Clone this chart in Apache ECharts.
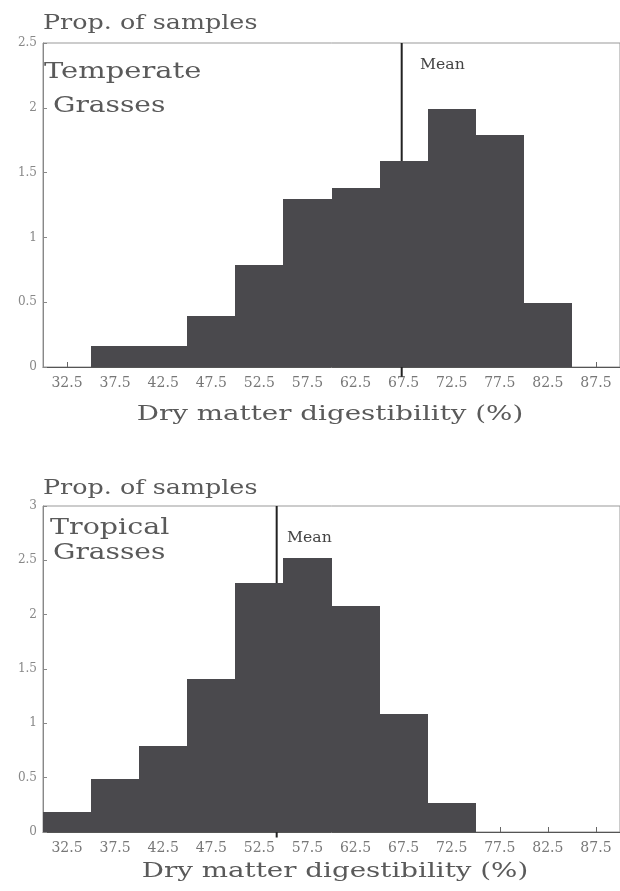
<!DOCTYPE html>
<html>
<head>
<meta charset="utf-8">
<script src="https://cdn.jsdelivr.net/npm/echarts@6/dist/echarts.min.js"></script>
<style>
html,body{margin:0;padding:0;background:#fff;}
#chart{width:620px;height:891px;}
</style>
</head>
<body>
<div id="chart"></div>
<script>
// Bin centre labels (bins of 5 % from 30 to 90)
const binLabels = ['32.5','37.5','42.5','47.5','52.5','57.5','62.5','67.5','72.5','77.5','82.5','87.5'];
// Proportion of samples per bin
const temperateValues = [0, 0.16, 0.16, 0.39, 0.79, 1.30, 1.38, 1.59, 1.99, 1.79, 0.49, 0];
const tropicalValues  = [0.18, 0.49, 0.79, 1.41, 2.29, 2.52, 2.08, 1.09, 0.27, 0, 0, 0];
// Means
const temperateMean = 67.3;
const tropicalMean = 54.3;
// Axis ranges
const temperateYMax = 2.5;
const tropicalYMax = 3;
const xMin = 30, xMax = 90;

const FONT = 'DejaVu Serif';
const TXT = '#5a5a5a';
const BAR = '#4a494d';

function catAxis(g) {
  return {
    gridIndex: g, type: 'category', data: binLabels, boundaryGap: true,
    axisLine: {show: true, lineStyle: {color: '#555', width: 1}},
    axisTick: {show: true, inside: true, alignWithLabel: true, length: 5, lineStyle: {color: '#666'}},
    axisLabel: {margin: 9, fontFamily: FONT, fontSize: 14, color: '#777', interval: 0},
    splitLine: {show: false}
  };
}
function valXAxis(g) {
  return {gridIndex: g, type: 'value', min: xMin, max: xMax, show: false};
}
function yAxis(g, max) {
  return {
    gridIndex: g, type: 'value', min: 0, max: max, interval: 0.5,
    axisLine: {show: true, lineStyle: {color: '#888', width: 1}},
    axisTick: {show: true, inside: true, length: 4, lineStyle: {color: '#888'}},
    axisLabel: {margin: 6, fontFamily: FONT, fontSize: 12, color: '#888'},
    splitLine: {show: false}
  };
}
function txt(text, x, y, size, sx, align, color) {
  return {
    type: 'text', x: x, y: y, scaleX: sx, z: 10,
    style: {text: text, fontFamily: FONT, fontSize: size, fill: color || TXT,
            align: align || 'left', verticalAlign: 'middle'}
  };
}
// histogram bins drawn via axis scales, snapped to whole pixels so neighbours share edges
function renderBin(params, api) {
  const idx = api.value(0), v = api.value(1);
  if (!(v > 0)) return null;
  const top = api.coord([idx, v]);
  const base = api.coord([idx, 0]);
  const w = api.size([1, 0])[0];
  const x0 = Math.round(top[0] - w / 2), x1 = Math.round(top[0] + w / 2);
  const y0 = Math.round(top[1]), y1 = Math.round(base[1]);
  return {type: 'rect', shape: {x: x0, y: y0, width: x1 - x0, height: y1 - y0},
          style: {fill: BAR}};
}
function binData(vals) { return vals.map((v, i) => [i, v]); }

const chart = echarts.init(document.getElementById('chart'), null, {renderer: 'canvas'});
chart.setOption({
  animation: false,
  backgroundColor: '#ffffff',
  grid: [
    {left: 43, top: 43, width: 578, height: 324, show: true, borderColor: '#999', borderWidth: 1},
    {left: 43, top: 506, width: 578, height: 326, show: true, borderColor: '#999', borderWidth: 1}
  ],
  xAxis: [catAxis(0), valXAxis(0), catAxis(1), valXAxis(1)],
  yAxis: [yAxis(0, temperateYMax), yAxis(1, tropicalYMax)],
  series: [
    {type: 'custom', xAxisIndex: 0, yAxisIndex: 0, data: binData(temperateValues),
     renderItem: renderBin, z: 3, encode: {x: 0, y: 1}},
    {type: 'line', xAxisIndex: 1, yAxisIndex: 0, clip: false, symbol: 'none', z: 2,
     data: [[temperateMean, -0.075], [temperateMean, temperateYMax]],
     lineStyle: {color: '#222', width: 2}},
    {type: 'custom', xAxisIndex: 2, yAxisIndex: 1, data: binData(tropicalValues),
     renderItem: renderBin, z: 3, encode: {x: 0, y: 1}},
    {type: 'line', xAxisIndex: 3, yAxisIndex: 1, clip: false, symbol: 'none', z: 2,
     data: [[tropicalMean, -0.05], [tropicalMean, tropicalYMax]],
     lineStyle: {color: '#222', width: 2}}
  ],
  graphic: [
    txt('Prop. of samples', 43, 24, 20, 1.27),
    txt('Temperate', 44, 72, 23, 1.26),
    txt('Grasses', 53, 106, 23, 1.22),
    txt('Mean', 420, 65, 14, 1.12, 'left', '#444'),
    txt('Dry matter digestibility (%)', 330, 415, 21, 1.32, 'center'),
    txt('Prop. of samples', 43, 489, 20, 1.27),
    txt('Tropical', 50, 528, 23, 1.24),
    txt('Grasses', 53, 553, 23, 1.22),
    txt('Mean', 287, 538, 14, 1.12, 'left', '#444'),
    txt('Dry matter digestibility (%)', 335, 872, 21, 1.32, 'center')
  ]
});
</script>
</body>
</html>
